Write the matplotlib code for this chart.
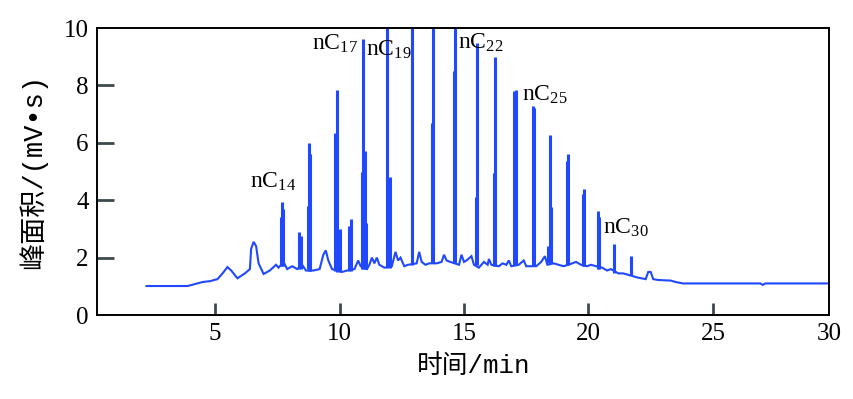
import numpy as np
import matplotlib
matplotlib.use('Agg')
import matplotlib.pyplot as plt

# baseline of the trace (time in min, signal)
base_t = [2.25, 3.9, 4.2, 4.5, 4.8, 5.1, 5.3, 5.5, 5.65, 5.9, 6.2, 6.4, 6.45, 6.55, 6.65, 6.75,
          6.95, 7.2, 7.45, 7.55, 7.75, 7.9, 8.1, 8.3, 8.5, 8.65, 8.95, 9.2, 9.35, 9.45, 9.55,
          9.7, 10.1, 10.3, 10.6, 10.75, 10.85, 11.1, 11.2, 11.3, 11.4, 11.5, 11.6, 11.8, 12.1,
          12.25, 12.35, 12.45, 12.6, 12.75, 13.1, 13.2, 13.3, 13.45, 13.6, 13.9, 14.1, 14.2,
          14.3, 14.45, 14.8, 14.9, 15.0, 15.1, 15.3, 15.4, 15.6, 15.8, 15.95, 16.0, 16.1, 16.4,
          16.55, 16.7, 16.8, 16.9, 17.2, 17.4, 17.5, 17.9, 18.1, 18.25, 18.35, 18.6, 18.8, 19.0,
          19.35, 19.5, 19.7, 19.95, 20.1, 20.3, 20.55, 20.75, 20.9, 21.2, 21.4, 21.6, 21.8,
          22.0, 22.3, 22.4, 22.5, 22.6, 22.8, 23.3, 23.5, 23.8, 26.9, 27.0, 27.1, 29.7]
base_y = [1.01, 1.01, 1.08, 1.15, 1.18, 1.25, 1.45, 1.67, 1.55, 1.28, 1.45, 1.6, 2.3, 2.55, 2.4, 1.8,
          1.43, 1.55, 1.75, 1.65, 1.85, 1.6, 1.7, 1.6, 1.75, 1.55, 1.55, 1.6, 2.1, 2.25, 1.9,
          1.6, 1.5, 1.55, 1.6, 1.9, 1.7, 1.6, 1.75, 2.0, 1.8, 2.0, 1.75, 1.65, 1.7,
          2.2, 1.9, 2.0, 1.7, 1.75, 1.8, 2.2, 1.85, 1.75, 1.8, 1.8, 1.85, 2.1,
          1.9, 1.85, 1.75, 2.1, 1.85, 1.9, 2.05, 1.75, 1.65, 1.85, 1.75, 1.95, 1.75, 1.7,
          1.8, 1.75, 1.9, 1.7, 1.75, 1.9, 1.7, 1.7, 1.85, 2.05, 1.75, 1.8, 1.75, 1.7,
          1.8, 1.85, 1.75, 1.7, 1.75, 1.7, 1.65, 1.55, 1.6, 1.45, 1.45, 1.4, 1.35,
          1.3, 1.25, 1.5, 1.5, 1.25, 1.22, 1.2, 1.15, 1.1, 1.1, 1.05, 1.1, 1.1]

# sharp peaks: time, foot, top
peak_t = [7.63, 7.69, 7.73, 8.37, 8.44, 8.72, 8.78, 8.83, 9.82, 9.9, 10.0, 10.4, 10.45,
          10.91, 10.96, 11.02, 11.07, 11.92, 12.02, 12.9, 13.72, 13.77, 14.58, 14.65,
          15.47, 15.52, 16.2, 16.25, 17.02, 17.08, 17.78, 17.82, 18.38, 18.45, 18.5,
          19.12, 19.19, 19.78, 19.82, 20.38, 20.43, 21.04, 21.72]
peak_foot = [1.7, 1.7, 1.7, 1.6, 1.6, 1.6, 1.55, 1.55, 1.55, 1.5, 1.5, 1.55, 1.55,
             1.6, 1.6, 1.6, 1.6, 1.65, 1.65, 1.75, 1.8, 1.8, 1.8, 1.8,
             1.75, 1.75, 1.7, 1.7, 1.75, 1.75, 1.7, 1.7, 1.8, 1.8, 1.8,
             1.75, 1.75, 1.7, 1.7, 1.6, 1.6, 1.45, 1.4]
peak_top = [3.4, 3.93, 3.7, 2.9, 2.75, 3.8, 6.0, 5.6, 6.35, 7.84, 3.0, 3.1, 3.35,
            5.0, 9.6, 5.7, 3.2, 10.5, 4.8, 10.5, 6.7, 10.5, 8.5, 10.5,
            4.1, 9.47, 4.94, 9.0, 7.8, 7.84, 7.28, 7.2, 2.4, 6.27, 3.77,
            5.35, 5.6, 4.2, 4.38, 3.63, 3.4, 2.47, 2.06]

# n-alkane labels
lab_text = ['14', '17', '19', '22', '25', '30']
lab_t = [6.41, 8.9, 11.06, 14.76, 17.33, 20.58]
lab_y = [4.63, 9.44, 9.23, 9.48, 7.67, 3.03]

blue = '#1f48ff'
cjk = ['Liberation Mono', 'Noto Sans CJK SC']
plt.rcParams['font.family'] = 'Liberation Serif'
plt.rcParams['mathtext.fontset'] = 'custom'
plt.rcParams['mathtext.rm'] = 'Liberation Serif'

fig = plt.figure(figsize=(8.54, 3.99), dpi=100)
ax = fig.add_axes([0.1136, 0.2105, 0.8571, 0.7193])

ax.plot(base_t, base_y, color=blue, lw=1.5, solid_joinstyle='miter')
ax.vlines(peak_t, peak_foot, peak_top, color=blue, lw=2.2)

for s, t, y in zip(lab_text, lab_t, lab_y):
    ax.text(t, y, r'$\mathregular{nC_{%s}}$' % s, fontsize=17, ha='left', va='center')

ax.set_xlim(0.26, 29.66)
ax.set_ylim(0, 10)
ax.set_xticks([5, 10, 15, 20, 25, 29.66])
ax.set_xticklabels(['5', '10', '15', '20', '25', '30'])
ax.set_yticks([0, 2, 4, 6, 8, 10])
ax.tick_params(axis='both', direction='in', labelsize=18, color='#3c4a50', width=2)
ax.tick_params(axis='x', length=9, pad=6)
ax.tick_params(axis='y', length=12, pad=6)
ax.xaxis.get_major_ticks()[-1].tick1line.set_visible(False)
ax.yaxis.get_major_ticks()[0].tick1line.set_visible(False)
ax.yaxis.get_major_ticks()[-1].tick1line.set_visible(False)

for sp in ax.spines.values():
    sp.set_linewidth(1.4)

ax.set_xlabel('时间/min', family=cjk, fontsize=18.5)
ax.xaxis.set_label_coords(0.515, -0.135)
ax.set_ylabel('峰面积/(mV•s)', family=cjk, fontsize=19.5)
ax.yaxis.set_label_coords(-0.068, 0.5)

fig.savefig('out.png', dpi=100)
